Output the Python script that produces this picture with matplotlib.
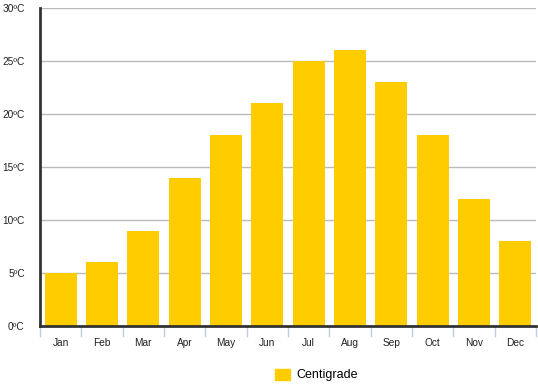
import matplotlib
matplotlib.use("Agg")
import matplotlib.pyplot as plt
from matplotlib.patches import Patch
import numpy as np

months = ["Jan", "Feb", "Mar", "Apr", "May", "Jun", "Jul", "Aug", "Sep", "Oct", "Nov", "Dec"]
centigrade = [5, 6, 9, 14, 18, 21, 25, 26, 23, 18, 12, 8]
yticks = [0, 5, 10, 15, 20, 25, 30]
ytick_labels = ["0ºC", "5ºC", "10ºC", "15ºC", "20ºC", "25ºC", "30ºC"]

plt.rcParams['font.family'] = ['Liberation Sans', 'DejaVu Sans']
W, H = 538, 384
fig = plt.figure(figsize=(W / 100, H / 100), dpi=100)
ax = fig.add_axes([40 / W, 58 / H, 496 / W, 318 / H])

color = "#FFCC00"
x = np.arange(len(months))
ax.bar(x, centigrade, width=0.78, color=color, zorder=3)
ax.set_xlim(-0.5, len(months) - 0.5)
ax.set_ylim(0, 30)

ax.set_yticks(yticks)
ax.set_yticklabels(ytick_labels, fontsize=7.3, color="#222222")
ax.yaxis.grid(True, color="#BBBBBB", linewidth=1, zorder=0)
ax.tick_params(axis="y", length=0, pad=11)

ax.set_xticks(x)
ax.set_xticklabels(months, fontsize=7.3, color="#222222")
ax.tick_params(axis="x", length=0, pad=9)
for b in np.arange(-0.5, len(months) + 0.5, 1):
    ax.plot([b, b], [0, -0.9], color="#C0CCDD", linewidth=1, clip_on=False, zorder=1)

for s in ["top", "right"]:
    ax.spines[s].set_visible(False)
ax.spines["left"].set_color("#333333")
ax.spines["left"].set_linewidth(2)
ax.spines["bottom"].set_color("#333333")
ax.spines["bottom"].set_linewidth(2)
ax.spines["bottom"].set_zorder(4)

handles = [Patch(facecolor=color, edgecolor=color, label="Centigrade")]
fig.legend(handles=handles, loc="center", bbox_to_anchor=(0.588, 1 - 375 / H),
           frameon=False, fontsize=9, handlelength=1.2, handleheight=1.0, handletextpad=0.5)

fig.savefig("out.png", dpi=100)
